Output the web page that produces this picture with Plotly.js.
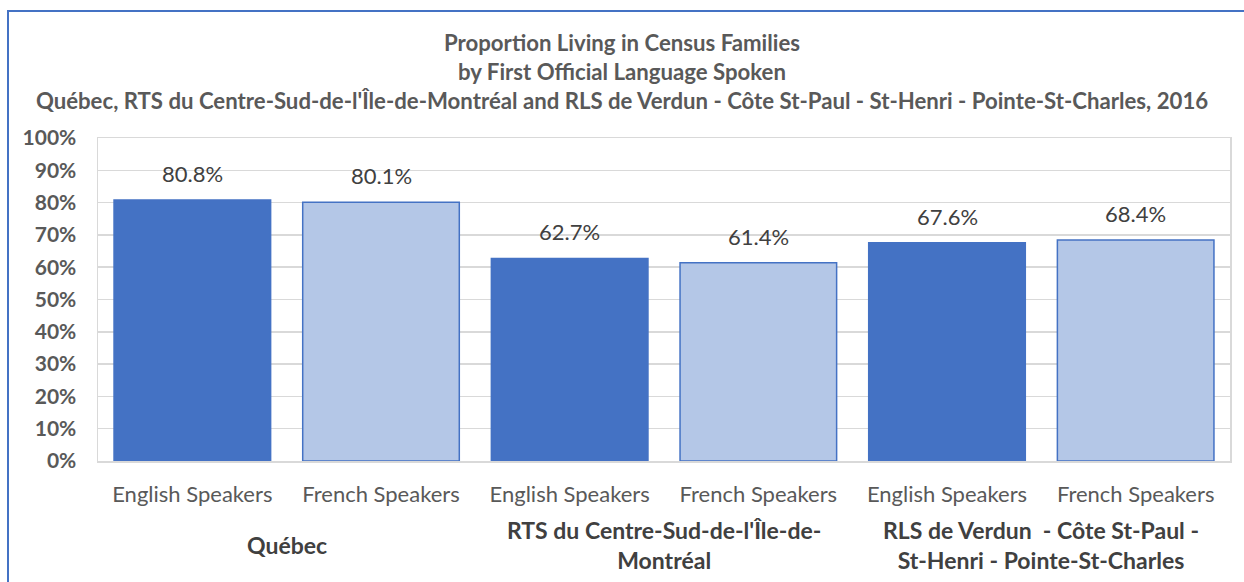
<!DOCTYPE html>
<html>
<head>
<meta charset="utf-8">
<script src="https://cdn.plot.ly/plotly-3.0.1.min.js"></script>
<style>
html,body{margin:0;padding:0;overflow:hidden;background:#fff;}
#chart{position:absolute;left:0;top:0;width:1244px;height:582px;}
#frame{position:absolute;left:7px;top:10px;width:1400px;height:800px;border:2px solid #4472C4;pointer-events:none;}
</style>
</head>
<body>
<div id="chart"></div>
<div id="frame"></div>
<script>
const regions = ["Québec", "RTS du Centre-Sud-de-l'Île-de-<br>Montréal", "RLS de Verdun  - Côte St-Paul -<br>St-Henri - Pointe-St-Charles"];
const speakers = ["English Speakers", "French Speakers", "English Speakers", "French Speakers", "English Speakers", "French Speakers"];
const values = [80.8, 80.1, 62.7, 61.4, 67.6, 68.4];
const barColors = ["#4472C4", "#B4C7E7", "#4472C4", "#B4C7E7", "#4472C4", "#B4C7E7"];
const yTicks = [0,10,20,30,40,50,60,70,80,90,100];

const xs = values.map((v,i)=>i);
const font = "Lato, 'Open Sans', sans-serif";

const trace = {
  type: 'bar',
  x: xs,
  y: values,
  width: 0.83,
  marker: {color: barColors, line: {color: '#4472C4', width: 1.5}},
  hoverinfo: 'skip'
};

const annotations = [];
values.forEach((v,i)=>{
  annotations.push({
    x: i, y: v, xref: 'x', yref: 'y', text: v.toFixed(1) + '%',
    showarrow: false, yanchor: 'bottom', yshift: 11,
    font: {family: font, size: 22, color: '#404040'}
  });
});
regions.forEach((r,g)=>{
  annotations.push({
    x: g*2 + 0.5, xref: 'x', y: -0.26, yref: 'paper',
    yanchor: 'middle', text: '<b>' + r + '</b>', showarrow: false,
    font: {family: font, size: 23, color: '#404040'}
  });
});

const layout = {
  width: 1244, height: 582,
  margin: {l: 98, r: 14, t: 138, b: 121},
  paper_bgcolor: '#fff', plot_bgcolor: '#fff',
  showlegend: false,
  title: {
    text: '<b>Proportion Living in Census Families<br>by First Official Language Spoken<br>Québec, RTS du Centre-Sud-de-l\'Île-de-Montréal and RLS de Verdun - Côte St-Paul - St-Henri - Pointe-St-Charles, 2016</b>',
    x: 0.5, xanchor: 'center', yref: 'container', y: 0.912, yanchor: 'top',
    font: {family: font, size: 22.2, color: '#595959'}
  },
  xaxis: {
    range: [-0.5, 5.5],
    tickmode: 'array', tickvals: xs, ticktext: speakers,
    tickfont: {family: font, size: 22, color: '#595959'},
    ticks: '', ticklen: 0,
    showgrid: false, zeroline: false,
    showline: true, linecolor: '#D9D9D9', linewidth: 1.5, mirror: true,
    ticklabelstandoff: 13,
    fixedrange: true
  },
  yaxis: {
    range: [0, 100],
    tickmode: 'array', tickvals: yTicks, ticktext: yTicks.map(t=>'<b>'+t+'%</b>'),
    tickfont: {family: font, size: 21, color: '#595959'},
    ticks: '', showgrid: true, gridcolor: '#D9D9D9', gridwidth: 1.5,
    zeroline: false,
    showline: true, linecolor: '#D9D9D9', linewidth: 1.5, mirror: true,
    ticklabelstandoff: 16,
    fixedrange: true
  },
  annotations: annotations
};

Plotly.newPlot('chart', [trace], layout, {displayModeBar: false, staticPlot: true});
</script>
</body>
</html>
